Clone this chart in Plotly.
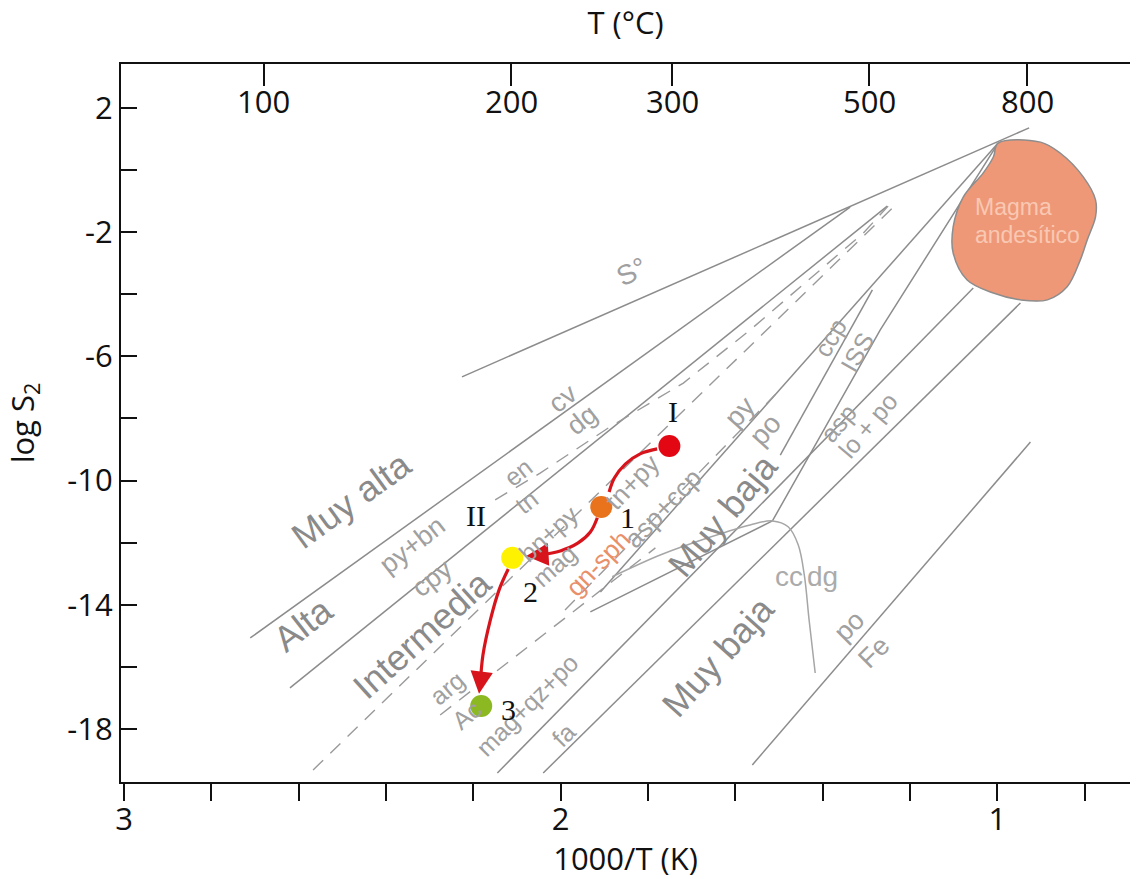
import plotly.graph_objects as go

# ---- axis extents (1000/T in K^-1, log S2) ----
X_RANGE = [3.007, 0.696]
Y_RANGE = [-19.71, 3.417]

x_tickvals = [3.0, 2.8, 2.6, 2.4, 2.2, 2.0, 1.8, 1.6, 1.4, 1.2, 1.0, 0.8]
x_ticktext = ["3", "", "", "", "", "2", "", "", "", "", "1", ""]
y_tickvals = [2, 0, -2, -4, -6, -8, -10, -12, -14, -16, -18]
y_ticktext = ["2", "", "-2", "", "-6", "", "-10", "", "-14", "", "-18"]
t_celsius = [100, 200, 300, 500, 800]
t_tickvals = [1000.0 / (t + 273.15) for t in t_celsius]

# ---- sulfidation reaction lines (1000/T, log S2) ----
sulfur_x = [2.226, 0.927]
sulfur_y = [-6.66, 1.36]
cv_dg_x = [2.711, 1.337]
cv_dg_y = [-15.07, -1.19]
pybn_cpy_x = [2.620, 1.252]
pybn_cpy_y = [-16.68, -1.16]
py_po_x = [0.998, 1.909]
py_po_y = [0.87, -13.59]
steep_x = [0.998, 1.268, 1.515]
steep_y = [0.87, -5.15, -11.30]
fa_x = [2.145, 1.055]
fa_y = [-19.42, -3.80]
asp_lo_x = [2.040, 0.947]
asp_lo_y = [-19.42, -4.28]
ccp_iss_x = [1.286, 1.497]
ccp_iss_y = [-3.86, -9.18]
po_fe_x = [1.561, 0.924]
po_fe_y = [-19.16, -8.76]
cc_dg_x = [1.882, 1.772, 1.657, 1.566, 1.515, 1.479, 1.456, 1.442, 1.431, 1.417]
cc_dg_y = [-13.10, -12.40, -11.82, -11.43, -11.30, -11.49, -12.07, -13.04, -14.49, -16.20]
wedge_x = [1.932, 1.515]
wedge_y = [-14.23, -11.30]

# dashed reactions
en_tn_x = [2.150, 2.047, 1.887, 1.719, 1.566, 1.307, 1.250]
en_tn_y = [-10.62, -9.76, -8.27, -6.86, -5.15, -2.03, -1.16]
bnpy_mag_x = [2.567, 1.240]
bnpy_mag_y = [-19.32, -1.22]
tnpy_asp_x = [1.990, 1.509]
tnpy_asp_y = [-14.17, -7.24]
arg_ac_x = [2.276, 1.783]
arg_ac_y = [-17.55, -12.17]

# andesitic magma field outline
magma_x = [0.998, 0.901, 0.856, 0.803, 0.775, 0.775, 0.794, 0.810, 0.840, 0.885,
           0.947, 1.009, 1.069, 1.101, 1.101, 1.078, 1.032, 1.009, 0.998]
magma_y = [0.87, 0.90, 0.55, -0.22, -0.96, -1.51, -2.25, -2.90, -3.76, -4.18,
           -4.18, -3.96, -3.54, -2.67, -1.83, -0.87, -0.09, 0.42, 0.87]

# fluid evolution stages
stage_x = [1.751, 1.907, 2.111, 2.182]
stage_y = [-8.89, -10.85, -12.49, -17.26]
stage_colors = ["#e30613", "#e8731c", "#fff200", "#8cb821"]

# evolution paths between stages
path1_x = [1.779, 1.818, 1.852, 1.877, 1.889]
path1_y = [-8.98, -9.14, -9.47, -9.92, -10.37]
path2_x = [1.916, 1.932, 1.960, 2.001, 2.047]
path2_y = [-11.20, -11.66, -12.01, -12.27, -12.40]
path3_x = [2.120, 2.141, 2.161, 2.178, 2.184]
path3_y = [-12.85, -13.52, -14.49, -15.62, -16.52]
tips_x = [1.893, 2.079, 2.187]
tips_y = [-10.56, -12.43, -16.87]

LINE_GRAY = "#8c8c8c"
FIELD_GRAY = "#8a8a8a"
MIN_GRAY = "#a0a0a0"
RED = "#d7141c"

fig = go.Figure()

solid = [
    (sulfur_x, sulfur_y), (cv_dg_x, cv_dg_y), (pybn_cpy_x, pybn_cpy_y),
    (py_po_x, py_po_y), (steep_x, steep_y), (fa_x, fa_y), (asp_lo_x, asp_lo_y),
    (ccp_iss_x, ccp_iss_y), (po_fe_x, po_fe_y), (wedge_x, wedge_y),
]
for xs, ys in solid:
    fig.add_trace(go.Scatter(x=xs, y=ys, mode="lines",
                             line=dict(color=LINE_GRAY, width=1.5),
                             hoverinfo="skip", showlegend=False))

fig.add_trace(go.Scatter(x=cc_dg_x, y=cc_dg_y, mode="lines",
                         line=dict(color="#a6a6a6", width=1.5, shape="spline"),
                         hoverinfo="skip", showlegend=False))

dashed = [(en_tn_x, en_tn_y), (bnpy_mag_x, bnpy_mag_y),
          (tnpy_asp_x, tnpy_asp_y), (arg_ac_x, arg_ac_y)]
for xs, ys in dashed:
    fig.add_trace(go.Scatter(x=xs, y=ys, mode="lines",
                             line=dict(color="#9a9a9a", width=1.4, dash="14px,10px"),
                             hoverinfo="skip", showlegend=False))

fig.add_trace(go.Scatter(x=magma_x, y=magma_y, mode="lines", fill="toself",
                         fillcolor="#ee9878",
                         line=dict(color="#8d8d8d", width=1.5, shape="spline"),
                         hoverinfo="skip", showlegend=False))

for xs, ys in [(path1_x, path1_y), (path2_x, path2_y), (path3_x, path3_y)]:
    fig.add_trace(go.Scatter(x=xs, y=ys, mode="lines",
                             line=dict(color=RED, width=3.2, shape="spline"),
                             hoverinfo="skip", showlegend=False))

fig.add_trace(go.Scatter(x=stage_x, y=stage_y, mode="markers",
                         marker=dict(size=22, color=stage_colors),
                         hoverinfo="skip", showlegend=False))

# invisible trace so the temperature axis is drawn
fig.add_trace(go.Scatter(x=[t_tickvals[0]], y=[0], xaxis="x2", mode="markers",
                         marker=dict(opacity=0), hoverinfo="skip", showlegend=False))

annotations = []

# arrowheads at the end of each path
arrow_from = [(path1_x[-1], path1_y[-1]), (path2_x[-1], path2_y[-1]), (path3_x[-1], path3_y[-1])]
for (ax_, ay_), tx, ty in zip(arrow_from, tips_x, tips_y):
    annotations.append(dict(x=tx, y=ty, ax=ax_, ay=ay_, xref="x", yref="y",
                            axref="x", ayref="y", text="", showarrow=True,
                            arrowhead=2, arrowsize=1.4, arrowwidth=3.2,
                            arrowcolor=RED))

AX_FONT = dict(family="Open Sans, Noto Sans, sans-serif", size=31, color="#111111")

# temperature labels placed just below the top axis, inside the frame
for t, xv in zip(t_celsius, t_tickvals):
    annotations.append(dict(x=xv, y=0.9485, xref="x", yref="paper", text=str(t),
                            showarrow=False, yanchor="middle", font=AX_FONT))

# (text, x, y, angle, size, color)
labels = [
    ("S°", 1.836, -3.28, -27, 28, MIN_GRAY),
    ("cv", 1.994, -7.34, -38, 27, MIN_GRAY),
    ("dg", 1.951, -8.05, -38, 27, MIN_GRAY),
    ("Muy alta", 2.478, -10.62, -36, 36, FIELD_GRAY),
    ("Alta", 2.590, -14.65, -38, 36, FIELD_GRAY),
    ("Intermedia", 2.317, -14.97, -42, 36, FIELD_GRAY),
    ("Muy baja", 1.630, -11.11, -50, 36, FIELD_GRAY),
    ("Muy baja", 1.639, -15.68, -48, 36, FIELD_GRAY),
    ("py+bn", 2.340, -12.07, -38, 27, MIN_GRAY),
    ("cpy", 2.294, -13.14, -38, 27, MIN_GRAY),
    ("en", 2.097, -9.72, -38, 25, MIN_GRAY),
    ("tn", 2.079, -10.69, -38, 25, MIN_GRAY),
    ("bn+py", 2.029, -11.72, -42, 25, MIN_GRAY),
    ("mag", 2.013, -12.72, -42, 25, MIN_GRAY),
    ("tn+py", 1.836, -10.05, -46, 26, MIN_GRAY),
    ("asp+ccp", 1.765, -10.88, -46, 26, MIN_GRAY),
    ("gn-sph", 1.914, -12.65, -46, 26, "#e9906a"),
    ("py", 1.589, -7.79, -48, 28, MIN_GRAY),
    ("po", 1.531, -8.37, -48, 28, MIN_GRAY),
    ("ccp", 1.383, -5.41, -60, 25, MIN_GRAY),
    ("ISS", 1.321, -5.86, -60, 25, MIN_GRAY),
    ("asp", 1.364, -8.14, -50, 25, MIN_GRAY),
    ("lo + po", 1.296, -8.21, -50, 25, MIN_GRAY),
    ("cc", 1.477, -13.10, 0, 28, "#ababab"),
    ("dg", 1.401, -13.10, 0, 28, "#ababab"),
    ("po", 1.339, -14.68, -45, 27, MIN_GRAY),
    ("Fe", 1.282, -15.52, -45, 27, MIN_GRAY),
    ("arg", 2.260, -16.68, -40, 25, MIN_GRAY),
    ("Ac", 2.216, -17.55, -40, 25, MIN_GRAY),
    ("mag+qz+po", 2.077, -17.23, -45, 25, MIN_GRAY),
    ("fa", 1.994, -18.19, -45, 25, MIN_GRAY),
]
for text, x, y, ang, size, color in labels:
    annotations.append(dict(x=x, y=y, xref="x", yref="y", text=text, showarrow=False,
                            textangle=ang,
                            font=dict(family="Liberation Sans, Arial", size=size, color=color)))

# magma field caption, left aligned
for text, x, y in [("Magma", 1.056, -1.19), ("andesítico", 1.056, -2.09)]:
    annotations.append(dict(x=x, y=y, xref="x", yref="y", text=text, showarrow=False,
                            xanchor="left",
                            font=dict(family="Liberation Sans, Arial", size=23, color="#f9c8b3")))

# stage tags
tags = [("I", 1.742, -7.79), ("II", 2.194, -11.14), ("1", 1.848, -11.20),
        ("2", 2.070, -13.56), ("3", 2.120, -17.39)]
for text, x, y in tags:
    annotations.append(dict(x=x, y=y, xref="x", yref="y", text=text, showarrow=False,
                            font=dict(family="Liberation Serif, Times New Roman",
                                      size=30, color="#111111")))

fig.update_layout(
    width=1140, height=879,
    margin=dict(l=121, r=10, t=64, b=97),
    paper_bgcolor="white", plot_bgcolor="white",
    showlegend=False,
    annotations=annotations,
    xaxis=dict(
        range=X_RANGE, tickvals=x_tickvals, ticktext=x_ticktext,
        ticks="outside", ticklen=17, tickwidth=1.6, tickcolor="#111111",
        ticklabelstandoff=-8,
        showline=True, linecolor="#111111", linewidth=2,
        showgrid=False, zeroline=False, tickfont=AX_FONT,
        title=dict(text="1000/T (K)", font=AX_FONT, standoff=0),
    ),
    xaxis2=dict(
        range=X_RANGE, overlaying="x", side="top",
        tickvals=t_tickvals, showticklabels=False,
        ticks="inside", ticklen=22, tickwidth=1.6, tickcolor="#111111",
        showline=True, linecolor="#111111", linewidth=2,
        showgrid=False, zeroline=False,
        title=dict(text="T (°C)", font=AX_FONT, standoff=18),
    ),
    yaxis=dict(
        range=Y_RANGE, tickvals=y_tickvals, ticktext=y_ticktext,
        ticks="inside", ticklen=16, tickwidth=1.6, tickcolor="#111111",
        showline=True, linecolor="#111111", linewidth=2,
        showgrid=False, zeroline=False, tickfont=AX_FONT,
        title=dict(text="log S<sub>2</sub>", font=AX_FONT, standoff=24),
    ),
)

fig.write_html("out.html")
